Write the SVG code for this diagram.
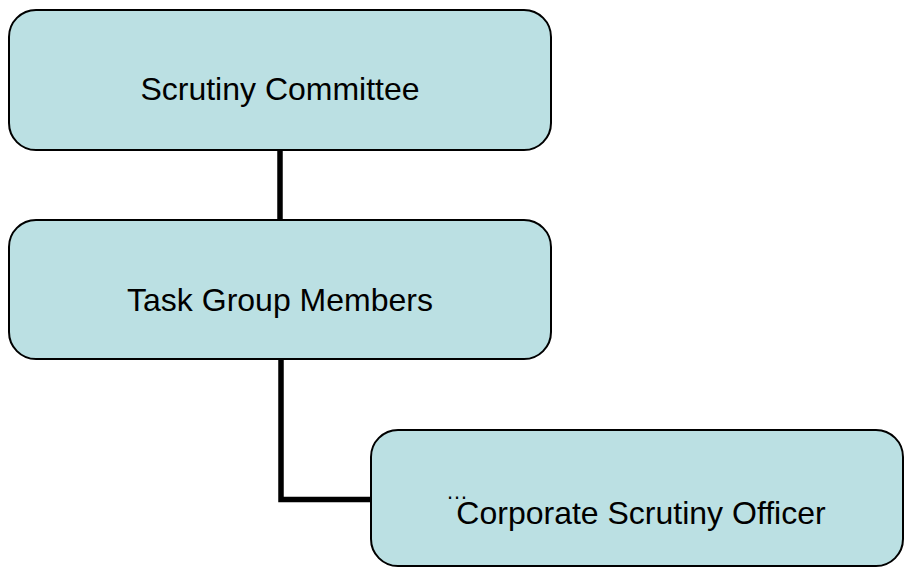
<svg xmlns="http://www.w3.org/2000/svg" width="904" height="567" viewBox="0 0 904 567">
<style>
.box{fill:#BBE0E3;stroke:#000;stroke-width:2}
.lbl{font-family:"Liberation Sans",Arial,sans-serif;font-size:32px;fill:#000;text-anchor:middle}
.conn{fill:none;stroke:#000;stroke-width:5.5}
</style>
<rect width="904" height="567" fill="#fff"/>
<g id="connectors">
<line class="conn" x1="280" y1="150" x2="280" y2="220"/>
<polyline class="conn" points="281,359 281,499.5 371,499.5"/>
</g>
<g id="node-scrutiny-committee">
<rect class="box" x="9" y="10" width="542" height="140" rx="27" ry="27"/>
<text class="lbl" x="280" y="100">Scrutiny Committee</text>
</g>
<g id="node-task-group-members">
<rect class="box" x="9" y="220" width="542" height="139" rx="27" ry="27"/>
<text class="lbl" x="280" y="311">Task Group Members</text>
</g>
<g id="node-corporate-scrutiny-officer">
<rect class="box" x="371" y="430" width="532" height="136" rx="27" ry="27"/>
<text style="font-family:'Liberation Sans',Arial,sans-serif;font-size:22px;fill:#000" x="446" y="499">…</text>
<text class="lbl" x="641" y="524">Corporate Scrutiny Officer</text>
</g>
</svg>
